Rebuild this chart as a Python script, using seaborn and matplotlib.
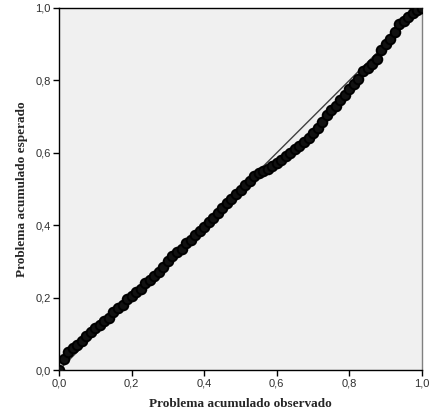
import numpy as np
import pandas as pd
import matplotlib
matplotlib.use("Agg")
import matplotlib.pyplot as plt
import seaborn as sns

observado = [0.0, 0.0125, 0.025, 0.0375, 0.05, 0.0625, 0.075, 0.0875, 0.1, 0.1125,
             0.125, 0.1375, 0.15, 0.1625, 0.175, 0.1875, 0.2, 0.2125, 0.225, 0.2375,
             0.25, 0.2625, 0.275, 0.2875, 0.3, 0.3125, 0.325, 0.3375, 0.35, 0.3625,
             0.375, 0.3875, 0.4, 0.4125, 0.425, 0.4375, 0.45, 0.4625, 0.475, 0.4875,
             0.5, 0.5125, 0.525, 0.5375, 0.55, 0.5625, 0.575, 0.5875, 0.6, 0.6125,
             0.625, 0.6375, 0.65, 0.6625, 0.675, 0.6875, 0.7, 0.7125, 0.725, 0.7375,
             0.75, 0.7625, 0.775, 0.7875, 0.8, 0.8125, 0.825, 0.8375, 0.85, 0.8625,
             0.875, 0.8875, 0.9, 0.9125, 0.925, 0.9375, 0.95, 0.9625, 0.975, 0.9875, 1.0]
esperado = [0.0, 0.03, 0.05, 0.06, 0.07, 0.08, 0.095, 0.105, 0.115, 0.125,
            0.135, 0.145, 0.16, 0.17, 0.18, 0.195, 0.205, 0.215, 0.225, 0.24,
            0.25, 0.26, 0.27, 0.285, 0.3, 0.315, 0.325, 0.335, 0.35, 0.36,
            0.372, 0.385, 0.395, 0.41, 0.42, 0.435, 0.447, 0.46, 0.472, 0.485,
            0.497, 0.51, 0.522, 0.535, 0.543, 0.55, 0.556, 0.563, 0.572, 0.58,
            0.592, 0.6, 0.61, 0.62, 0.63, 0.64, 0.655, 0.668, 0.685, 0.705,
            0.718, 0.73, 0.745, 0.76, 0.775, 0.79, 0.805, 0.825, 0.835, 0.845,
            0.86, 0.885, 0.9, 0.915, 0.935, 0.955, 0.965, 0.975, 0.985, 0.995, 1.0]
linea = [0.0, 1.0]
ticks = [0.0, 0.2, 0.4, 0.6, 0.8, 1.0]
tick_labels = ["0,0", "0,2", "0,4", "0,6", "0,8", "1,0"]

df = pd.DataFrame({"obs": observado, "esp": esperado})

sns.set_style("white")
plt.rcParams["font.family"] = ["Liberation Sans", "DejaVu Sans"]

fig = plt.figure(figsize=(4.30, 4.15), dpi=100)
ax = fig.add_axes([59 / 430, 45 / 415, 363 / 430, 362 / 415])
ax.set_facecolor("#f0f0f0")

sns.lineplot(x=linea, y=linea, ax=ax, color="#404040", linewidth=1.0, zorder=2)
sns.scatterplot(data=df, x="obs", y="esp", ax=ax, marker="o", s=48,
                facecolor="#111111", edgecolor="black", linewidth=1.4, zorder=3)

ax.set_xlim(0, 1)
ax.set_ylim(0, 1)
ax.set_xticks(ticks)
ax.set_xticklabels(tick_labels)
ax.set_yticks(ticks)
ax.set_yticklabels(tick_labels)
ax.tick_params(axis="both", direction="out", length=4, width=1, color="black",
               labelsize=8, labelcolor="#303030", pad=2, bottom=True, left=True)

for side in ["left", "bottom", "top"]:
    ax.spines[side].set_color("black")
    ax.spines[side].set_linewidth(1.0)
ax.spines["right"].set_color("#808080")
ax.spines["right"].set_linewidth(1.0)

ax.set_xlabel("Problema acumulado observado", family=["Liberation Serif"],
              fontweight="bold", fontsize=9.5, labelpad=7)
ax.set_ylabel("Problema acumulado esperado", family=["Liberation Serif"],
              fontweight="bold", fontsize=9.5, labelpad=5)

fig.savefig("out.png", dpi=100)
